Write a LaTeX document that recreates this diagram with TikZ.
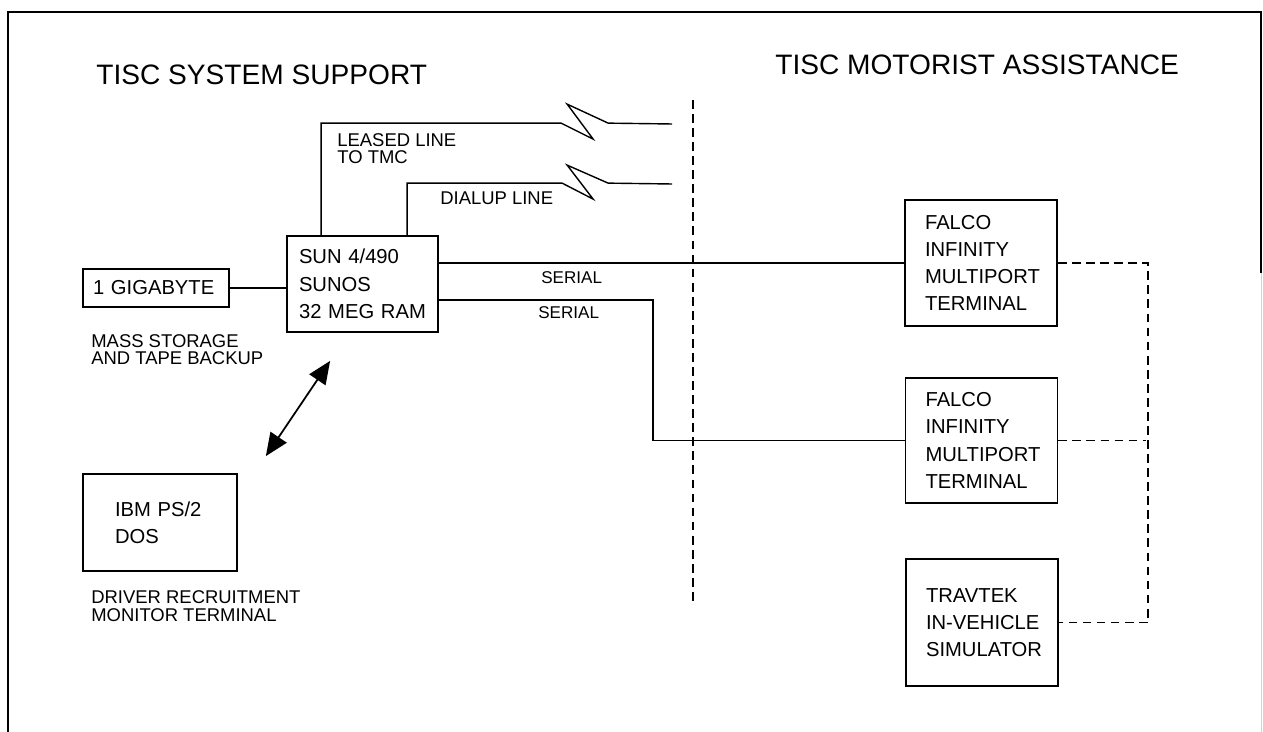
\documentclass[tikz,border=0pt]{standalone}
\usepackage{fontspec}
\setmainfont{Liberation Sans}
\usetikzlibrary{arrows.meta}

\begin{document}
\begin{tikzpicture}[x=0.02cm, y=-0.02cm,
    unit/.style={draw, line width=1pt, inner ysep=0pt, align=left, font=\fontsize{11.5}{15.5}\selectfont},
    tag/.style={anchor=base west, inner sep=0pt, align=left, font=\fontsize{10.5}{9.8}\selectfont},
    heading/.style={anchor=base west, inner sep=0pt, font=\fontsize{16}{19}\selectfont},
    link/.style={line width=.8pt},
    radio/.style={line width=.8pt, dash pattern=on 5pt off 3pt},
    twoway/.style={line width=1pt, <->, >={Triangle[length=13pt,width=11pt]}}]
    \useasboundingbox (0,0) rectangle (1263,732);

    % Frame
    \draw[line width=1.4pt] (8,732) -- (8,12) -- (1261,12) -- (1261,273);
    \draw[gray!35] (1261,273) -- (1261,732);

    % Headings
    \node[heading] (lefthead) at (96,85) {TISC SYSTEM SUPPORT};
    \node[heading] (righthead) at (775,75) {TISC MOTORIST ASSISTANCE};

    % Units
    \node[unit, text width=2.52cm, inner xsep=.2cm, minimum height=.76cm] (giga) at (156,288) {1 GIGABYTE};
    \node[unit, text width=2.54cm, inner xsep=.24cm, minimum height=1.92cm] (sun) at (362.5,284) {SUN 4/490\\SUNOS\\32 MEG RAM};
    \node[unit, text width=1.8cm, inner xsep=.64cm, minimum height=1.94cm] (ibm) at (160,522.5) {IBM PS/2\\DOS};
    \node[unit, text width=2.24cm, inner xsep=.4cm, minimum height=2.52cm] (falco1) at (981,263) {FALCO\\INFINITY\\MULTIPORT\\TERMINAL};
    \node[unit, text width=2.24cm, inner xsep=.4cm, minimum height=2.5cm] (falco2) at (981.5,440.5) {FALCO\\INFINITY\\MULTIPORT\\TERMINAL};
    \node[unit, text width=2.24cm, inner xsep=.4cm, minimum height=2.54cm] (travtek) at (982,622.5) {TRAVTEK\\\mbox{IN-VEHICLE}\\SIMULATOR};

    % Labels (base = last line)
    \node[tag] (leasedtag) at (337,164) {LEASED LINE\\TO TMC};
    \node[tag] (dialtag) at (440,205) {DIALUP LINE};
    \node[tag, font=\fontsize{9.7}{11}\selectfont] (serialtop) at (541,284) {SERIAL};
    \node[tag, font=\fontsize{9.7}{11}\selectfont] (serialbot) at (538,319) {SERIAL};
    \node[tag] (gigatag) at (91,365) {MASS STORAGE\\AND TAPE BACKUP};
    \node[tag] (ibmtag) at (91,621) {DRIVER RECRUITMENT\\MONITOR TERMINAL};

    \coordinate (leased) at (672,124);
    \coordinate (dialup) at (672,184);
    \coordinate (septop) at (693,100);
    \coordinate (sepbot) at (693,605);

    % Lines
    \draw[link] (giga.east) -- (giga.east -| sun.west);
    \draw[link] (sun.north west) ++(35,0) |- ++(240,-112) -- ++(32,16) -- ++(-26,-35) -- ++(41,19) -- (leased);
    \draw[link] (sun.north west) ++(121,0) |- ++(155,-52) -- ++(31,16) -- ++(-26,-34) -- ++(41,18) -- (dialup);
    \draw[link] (falco1.west -| sun.east) -- (falco1.west);
    \draw[link] (sun.east) ++(0,16) -- ++(214,0) |- (falco2.west);
    \draw[twoway] ([shift={(28,-17)}]ibm.north east) -- ([shift={(44,28)}]sun.south west);

    % Divider and terminal links
    \draw[radio] (septop) -- (sepbot);
    \draw[radio] (falco1.east) -- ++(90,0) |- (travtek.east);
    \draw[radio] (falco2.east) -- ++(88,0);
\end{tikzpicture}
\end{document}
